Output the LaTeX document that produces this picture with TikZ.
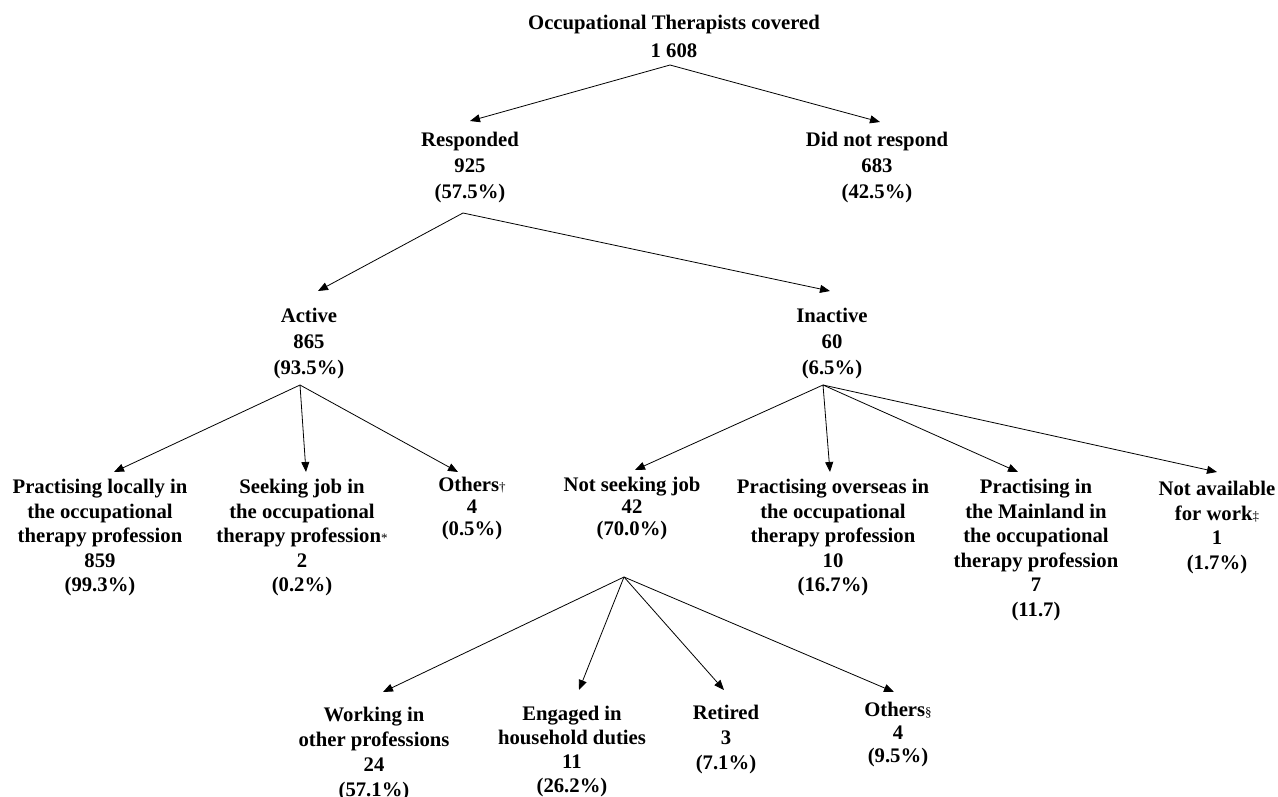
\documentclass[tikz,border=0pt]{standalone}
\usepackage{fontspec}
\setmainfont{Liberation Serif}
\usetikzlibrary{arrows.meta}
\newcommand{\fnmark}[1]{{\fontsize{13}{13}\selectfont\mdseries #1}}

\begin{document}
\begin{tikzpicture}[x=1pt,y=-1pt,
  lbl/.style={align=center,inner sep=0pt,anchor=north,font=\fontsize{20.7}{26}\selectfont\bfseries},
  lblt/.style={lbl,font=\fontsize{20.7}{24.5}\selectfont\bfseries},
  arr/.style={-{Triangle[length=10pt,width=8pt]},line width=0.8pt}]
\useasboundingbox (0,0) rectangle (1278,796);

\path (674,15) node[lbl,font=\fontsize{20.7}{28}\selectfont\bfseries] (top) {Occupational Therapists covered\\1 608};
\coordinate (top-b) at (670,65);

\path (470,132) node[lbl] (resp) {Responded\\925\\(57.5\%)};
\path (877,132) node[lbl] (nresp) {Did not respond\\683\\(42.5\%)};
\draw[arr] (top-b) -- ([yshift=11pt]resp.north);
\draw[arr] (top-b) -- ([xshift=3pt,yshift=10pt]nresp.north);
\coordinate (resp-b) at (463,213);

\path (309,308) node[lbl] (act) {Active\\865\\(93.5\%)};
\path (832,308) node[lbl] (inact) {Inactive\\60\\(6.5\%)};
\draw[arr] (resp-b) -- ([xshift=9pt,yshift=17pt]act.north);
\draw[arr] (resp-b) -- ([xshift=-2pt,yshift=17pt]inact.north);
\coordinate (act-b) at (300,385);
\coordinate (inact-b) at (823,385);

\path (100,479) node[lblt] (local) {Practising locally in\\the occupational\\therapy profession\\859\\(99.3\%)};
\path (302,479) node[lblt] (seek) {Seeking job in\\the occupational\\therapy profession\fnmark{*}\\2\\(0.2\%)};
\path (472,477) node[lbl,font=\fontsize{20.7}{22}\selectfont\bfseries] (oth1) {Others\fnmark{†}\\4\\(0.5\%)};
\draw[arr] (act-b) -- ([xshift=14pt,yshift=7pt]local.north);
\draw[arr] (act-b) -- ([xshift=4pt,yshift=7pt]seek.north);
\draw[arr] (act-b) -- ([xshift=-14pt,yshift=5pt]oth1.north);

\path (632,477) node[lbl,font=\fontsize{20.7}{22}\selectfont\bfseries] (nseek) {Not seeking job\\42\\(70.0\%)};
\path (833,479) node[lblt] (overs) {Practising overseas in\\the occupational\\therapy profession\\10\\(16.7\%)};
\path (1036,479) node[lblt] (mainl) {Practising in\\the Mainland in\\the occupational\\therapy profession\\7\\(11.7)};
\path (1217,481) node[lblt] (navail) {Not available\\for work\fnmark{‡}\\1\\(1.7\%)};
\draw[arr] (inact-b) -- ([xshift=3pt,yshift=7pt]nseek.north);
\draw[arr] (inact-b) -- ([xshift=-3pt,yshift=7pt]overs.north);
\draw[arr] (inact-b) -- ([xshift=-18pt,yshift=7pt]mainl.north);
\draw[arr] (inact-b) -- ([yshift=9pt]navail.north);
\coordinate (nseek-b) at (624,577);

\path (374,707) node[lbl,font=\fontsize{20.7}{25}\selectfont\bfseries] (work) {Working in\\other professions\\24\\(57.1\%)};
\path (572,706) node[lbl,font=\fontsize{20.7}{24}\selectfont\bfseries] (house) {Engaged in\\household duties\\11\\(26.2\%)};
\path (726,705) node[lbl,font=\fontsize{20.7}{25}\selectfont\bfseries] (retd) {Retired\\3\\(7.1\%)};
\path (898,702) node[lbl,font=\fontsize{20.7}{23}\selectfont\bfseries] (oth2) {Others\fnmark{§}\\4\\(9.5\%)};
\draw[arr] (nseek-b) -- ([xshift=9pt,yshift=15pt]work.north);
\draw[arr] (nseek-b) -- ([xshift=7pt,yshift=16pt]house.north);
\draw[arr] (nseek-b) -- ([xshift=-2pt,yshift=15pt]retd.north);
\draw[arr] (nseek-b) -- ([xshift=-4pt,yshift=10pt]oth2.north);
\end{tikzpicture}
\end{document}
